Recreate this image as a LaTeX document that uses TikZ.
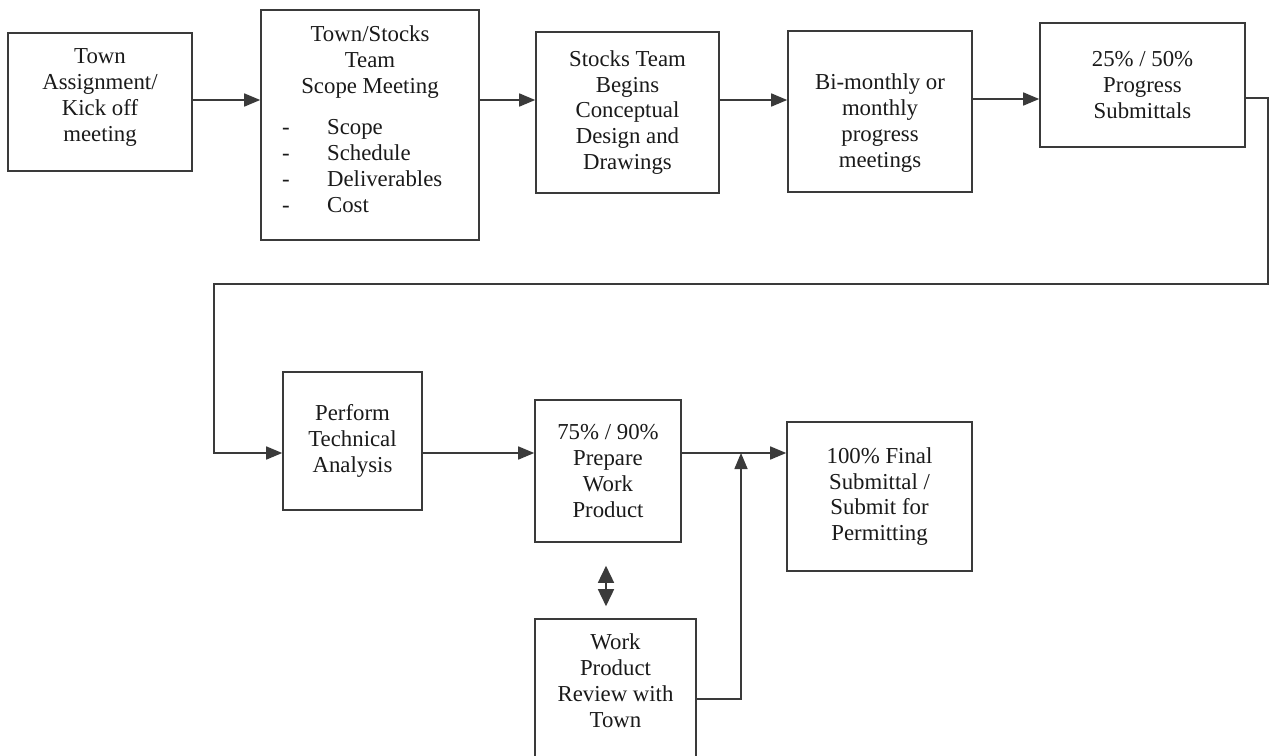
\documentclass[tikz,border=0pt]{standalone}
\usepackage{fontspec}
\setmainfont{Liberation Serif}
\usetikzlibrary{arrows.meta}
\definecolor{ln}{HTML}{3A3A3A}
\definecolor{tx}{HTML}{1A1A1A}
\begin{document}
\begin{tikzpicture}[x=1pt,y=-1pt,
  box/.style={draw=ln, line width=1.6pt, fill=white, rectangle, inner sep=0pt,
    align=center, text=tx, font=\fontsize{22.8}{25.9}\selectfont},
  arr/.style={draw=ln, line width=1.6pt, -{Triangle[length=16pt,width=13pt]}},
  plain/.style={draw=ln, line width=1.6pt},
  dbl/.style={draw=ln, line width=1.6pt, {Triangle[length=17pt,width=16pt]}-{Triangle[length=17pt,width=16pt]}}]
\clip (0,0) rectangle (1269,755);
\fill[white] (0,0) rectangle (1269,755);

% top row
\node[box, minimum width=184pt, minimum height=138pt] (b1) at (100,102)
  {Town\\Assignment/\\Kick off\\meeting\rule[-14pt]{0pt}{14pt}};
\node[box, minimum width=218pt, minimum height=230pt] (b2) at (370,125)
  {Town/Stocks\\Team\\Scope Meeting\\[16pt]
   \makebox[176pt][l]{-\hspace{37.5pt}Scope}\\
   \makebox[176pt][l]{-\hspace{37.5pt}Schedule}\\
   \makebox[176pt][l]{-\hspace{37.5pt}Deliverables}\\
   \makebox[176pt][l]{-\hspace{37.5pt}Cost}\rule[-12pt]{0pt}{12pt}};
\node[box, minimum width=183pt, minimum height=161pt] (b3) at (627.5,112.5)
  {Stocks Team\\Begins\\Conceptual\\Design and\\Drawings};
\node[box, minimum width=184pt, minimum height=161pt] (b4) at (880,111.5)
  {\rule{0pt}{39pt}Bi-monthly or\\monthly\\progress\\meetings};
\node[box, minimum width=205pt, minimum height=124pt] (b5) at (1142.5,85)
  {25\% / 50\%\\Progress\\Submittals};

% bottom row
\node[box, minimum width=139pt, minimum height=138pt] (b6) at (352.5,441)
  {Perform\\Technical\\Analysis};
\node[box, minimum width=146pt, minimum height=142pt] (b7) at (608,471)
  {75\% / 90\%\\Prepare\\Work\\Product};
\node[box, minimum width=185pt, minimum height=149pt] (b8) at (879.5,496.5)
  {100\% Final\\Submittal /\\Submit for\\Permitting};
\node[box, minimum width=161pt, minimum height=151pt] (b9) at (615.5,694.5)
  {Work\\Product\\Review with\\Town\rule[-28pt]{0pt}{28pt}};

% coordinates
\coordinate (r1) at (0,100);
\coordinate (r2) at (0,453);
\coordinate (k0) at (1268,98);
\coordinate (k1) at (1268,284);
\coordinate (k2) at (214,284);
\coordinate (j1) at (741,699);

% connectors top row
\draw[arr] (b1.east |- r1) -- (b2.west |- r1);
\draw[arr] (b2.east |- r1) -- (b3.west |- r1);
\draw[arr] (b3.east |- r1) -- (b4.west |- r1);
\draw[arr] ([yshift=1pt]b4.east |- r1) -- ([yshift=1pt]b5.west |- r1);

% wrap-around connector
\draw[arr] (b5.east |- k0) -- (k0) -- (k1) -- (k2) |- (b6.west |- r2);

% bottom row
\draw[arr] (b6.east |- r2) -- (b7.west |- r2);
\draw[arr] (b7.east |- r2) -- (b8.west |- r2);
\draw[dbl, shorten <=23pt, shorten >=12pt] ([xshift=-2pt]b7.south) -- ([xshift=-2pt]b7.south |- b9.north);
\draw[arr] (b9.east |- j1) -- (j1) -- (j1 |- r2);
\end{tikzpicture}
\end{document}
